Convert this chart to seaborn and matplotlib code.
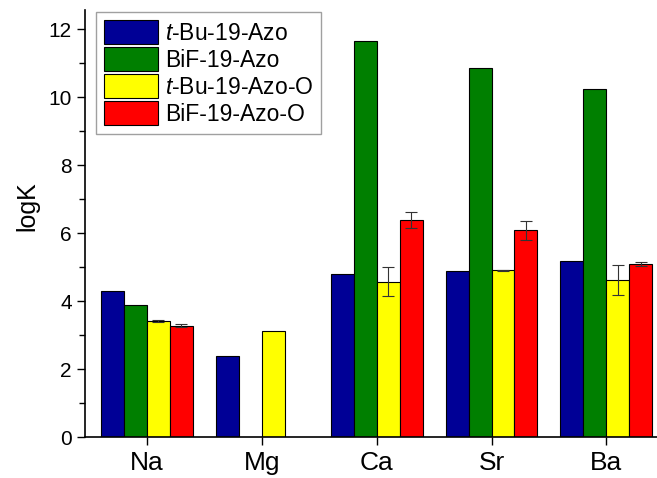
import numpy as np
import pandas as pd
import matplotlib
matplotlib.use('Agg')
import matplotlib.pyplot as plt
import seaborn as sns

sns.set_style('ticks')
plt.rcParams['font.family'] = ['Liberation Sans', 'DejaVu Sans']
plt.rcParams['mathtext.fontset'] = 'custom'
plt.rcParams['mathtext.rm'] = 'Liberation Sans'
plt.rcParams['mathtext.it'] = 'Liberation Sans:italic'
plt.rcParams['text.color'] = 'black'
plt.rcParams['axes.labelcolor'] = 'black'
plt.rcParams['xtick.color'] = 'black'
plt.rcParams['ytick.color'] = 'black'

# data
ions = ['Na', 'Mg', 'Ca', 'Sr', 'Ba']
series = ['$t$-Bu-19-Azo', 'BiF-19-Azo', '$t$-Bu-19-Azo-O', 'BiF-19-Azo-O']
tbu_azo = [4.29, 2.38, 4.79, 4.89, 5.19]
bif_azo = [3.88, np.nan, 11.65, 10.86, 10.24]
tbu_azo_o = [3.41, 3.14, 4.58, 4.91, 4.62]
bif_azo_o = [3.28, np.nan, 6.38, 6.09, 5.09]
tbu_azo_o_err = [0.03, 0.0, 0.43, 0.01, 0.45]
bif_azo_o_err = [0.05, 0.0, 0.23, 0.28, 0.05]
colors = ['#000096', '#007F00', '#FFFF00', '#FF0000']

values = [tbu_azo, bif_azo, tbu_azo_o, bif_azo_o]
df = pd.DataFrame({
    'ion': ions * 4,
    'series': [s for s in series for _ in ions],
    'logK': sum(values, []),
})

fig = plt.figure(figsize=(6.57, 4.78), dpi=100)
ax = fig.add_axes([0.1294, 0.085, 0.8706, 0.894])

sns.barplot(data=df, x='ion', y='logK', hue='series', order=ions,
            hue_order=series, palette=colors, saturation=1, width=0.8, gap=0,
            edgecolor='black', linewidth=0.8, errorbar=None, ax=ax)

# error bars on the two "-O" series, placed on the drawn bars
for k, errs in [(2, tbu_azo_o_err), (3, bif_azo_o_err)]:
    color = colors[k]
    bars = [b for b in ax.patches
            if matplotlib.colors.same_color(b.get_facecolor()[:3],
                                            matplotlib.colors.to_rgb(color))
            and b.get_height() > 0]
    xs, ys, es = [], [], []
    for b in bars:
        xc = b.get_x() + b.get_width() / 2
        i = int(round(xc))
        if errs[i] > 0:
            xs.append(xc)
            ys.append(values[k][i])
            es.append(errs[i])
    ax.errorbar(xs, ys, yerr=es, fmt='none', ecolor='#333333',
                elinewidth=0.8, capsize=4, capthick=0.8)

ax.set_xlim(-0.537, 4.44)
ax.set_ylim(0, 12.56)
ax.set_yticks(range(0, 13, 2))
ax.set_yticks(range(1, 13, 2), minor=True)
ax.set_xlabel('')
ax.set_ylabel('logK', fontsize=18)
ax.yaxis.set_label_coords(-0.08, 0.54)
ax.tick_params(axis='y', labelsize=15, length=6, width=1, direction='out')
ax.tick_params(axis='y', which='minor', length=4, width=1)
ax.tick_params(axis='x', labelsize=19, length=6, width=1, direction='out', pad=4)
for s in ['left', 'bottom']:
    ax.spines[s].set_linewidth(1.2)
    ax.spines[s].set_color('black')
sns.despine(ax=ax)

leg = ax.legend(loc='upper left', bbox_to_anchor=(0.019, 0.995), fontsize=16.5,
                frameon=True, fancybox=False, edgecolor='#888888',
                handlelength=2.35, handleheight=1.22, labelspacing=0.1,
                handletextpad=0.3, borderpad=0.35, borderaxespad=0)
leg.get_frame().set_linewidth(1.0)

fig.savefig('out.png', dpi=100)
